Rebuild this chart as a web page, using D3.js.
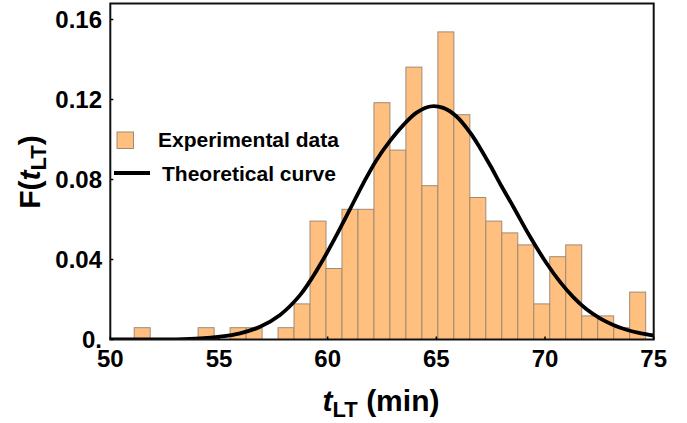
<!DOCTYPE html>
<html>
<head>
<meta charset="utf-8">
<script src="https://cdn.jsdelivr.net/npm/d3@7/dist/d3.min.js"></script>
<style>
  html, body { margin: 0; padding: 0; background: #fff; }
  svg { display: block; }
  text { font-family: "Liberation Sans", Arial, sans-serif; font-weight: bold; fill: #000; }
</style>
</head>
<body>
<svg id="chart" width="687" height="423"></svg>
<script>
// ---- data ----
const binStart = 51.10;      // left edge of first bar (min)
const binWidth = 0.7353;     // bar width (min)
const density = [
  0.0059, 0, 0, 0, 0.0059, 0, 0.0059, 0.0059, 0, 0.0059,
  0.0178, 0.0592, 0.0355, 0.0651, 0.0651, 0.1184, 0.0947, 0.1362, 0.0769, 0.1538,
  0.1124, 0.0710, 0.0592, 0.0533, 0.0473, 0.0178, 0.0414, 0.0473, 0.0118, 0.0118,
  0.0059, 0.0237
];
const curveT = [50.0, 53.0, 54.13, 55.05, 55.97, 56.89, 57.81, 58.73, 59.34, 59.95, 60.41, 61.03,
  61.64, 62.25, 62.87, 63.48, 64.09, 64.71, 65.32, 65.93, 66.55, 67.01, 67.5, 68.0, 68.54,
  69.3, 70.07, 70.69, 71.30, 71.91, 72.53, 73.14, 73.75, 74.37, 75.0];
const curveF = [0.0, 0.0001, 0.0005, 0.0014, 0.0031, 0.0064, 0.0123, 0.0222, 0.0318, 0.0430, 0.0522, 0.0652,
  0.0781, 0.0898, 0.0993, 0.1072, 0.1134, 0.1165, 0.1158, 0.1115, 0.1035, 0.0958, 0.0866, 0.0766, 0.0664,
  0.0516, 0.0381, 0.0288, 0.0212, 0.0151, 0.0106, 0.0073, 0.0049, 0.0032, 0.0020];
const xTicks = [50, 55, 60, 65, 70, 75];
const yTicks = [0, 0.04, 0.08, 0.12, 0.16];
const yTickLabels = ["0.", "0.04", "0.08", "0.12", "0.16"];
const legendLabels = ["Experimental data", "Theoretical curve"];

// ---- layout ----
const svg = d3.select("#chart");
const L = 110.3, R = 653.7, T = 3.5, B = 339.5;
const x = d3.scaleLinear().domain([50, 75]).range([L, R]);
const y = d3.scaleLinear().domain([0, 0.168]).range([B, T]);
const barFill = "#FFC07F", barStroke = "#A08A74";

svg.append("defs").append("clipPath").attr("id", "plotclip")
  .append("rect").attr("x", L).attr("y", T).attr("width", R - L).attr("height", B - T);

const plot = svg.append("g").attr("clip-path", "url(#plotclip)");

// bars
plot.selectAll("rect.bar")
  .data(density.map((v, i) => ({x0: binStart + i * binWidth, x1: binStart + (i + 1) * binWidth, v})).filter(d => d.v > 0))
  .enter().append("rect").attr("class", "bar")
  .attr("x", d => x(d.x0))
  .attr("y", d => y(d.v))
  .attr("width", d => x(d.x1) - x(d.x0))
  .attr("height", d => y(0) - y(d.v))
  .attr("fill", barFill)
  .attr("stroke", barStroke)
  .attr("stroke-width", 1);

// curve
const line = d3.line().x(d => x(d[0])).y(d => y(d[1])).curve(d3.curveCatmullRom.alpha(0.5));
plot.append("path")
  .datum(curveT.map((t, i) => [t, curveF[i]]))
  .attr("d", line)
  .attr("fill", "none")
  .attr("stroke", "#000")
  .attr("stroke-width", 3.8)
  .attr("stroke-linejoin", "round");

// frame
svg.append("rect").attr("x", L).attr("y", T).attr("width", R - L).attr("height", B - T)
  .attr("fill", "none").attr("stroke", "#111").attr("stroke-width", 2);

// ticks (inward)
const ax = svg.append("g");
xTicks.forEach(t => {
  ax.append("line").attr("x1", x(t)).attr("x2", x(t)).attr("y1", B).attr("y2", B - 3)
    .attr("stroke", "#000").attr("stroke-width", 1.5);
  ax.append("text").attr("x", x(t)).attr("y", 367).attr("text-anchor", "middle")
    .style("font-size", "24px").text(t);
});
yTicks.forEach((t, i) => {
  ax.append("line").attr("x1", L).attr("x2", L + 3).attr("y1", y(t)).attr("y2", y(t))
    .attr("stroke", "#000").attr("stroke-width", 1.5);
  ax.append("text").attr("x", 102).attr("y", y(t) + 8.5).attr("text-anchor", "end")
    .style("font-size", "24px").text(yTickLabels[i]);
});

// x title
const xt = svg.append("text").attr("x", 381).attr("y", 411).attr("text-anchor", "middle")
  .style("font-size", "30px");
xt.append("tspan").style("font-style", "italic").text("t");
xt.append("tspan").attr("dy", 6).style("font-size", "22px").text("LT");
xt.append("tspan").attr("dy", -6).text(" (min)");

// y title
const yt = svg.append("text").attr("transform", "translate(40,172) rotate(-90)")
  .attr("text-anchor", "middle").style("font-size", "30px");
yt.append("tspan").text("F(");
yt.append("tspan").style("font-style", "italic").text("t");
yt.append("tspan").attr("dy", 6).style("font-size", "22px").text("LT");
yt.append("tspan").attr("dy", -6).text(")");

// legend
const lg = svg.append("g");
lg.append("rect").attr("x", 117).attr("y", 132).attr("width", 16.5).attr("height", 16.5)
  .attr("fill", barFill).attr("stroke", barStroke).attr("stroke-width", 1);
lg.append("text").attr("x", 158).attr("y", 147).style("font-size", "21px").text(legendLabels[0]);
lg.append("line").attr("x1", 114).attr("x2", 150).attr("y1", 173).attr("y2", 173)
  .attr("stroke", "#000").attr("stroke-width", 3.8);
lg.append("text").attr("x", 162).attr("y", 181).style("font-size", "21px").text(legendLabels[1]);
</script>
</body>
</html>
